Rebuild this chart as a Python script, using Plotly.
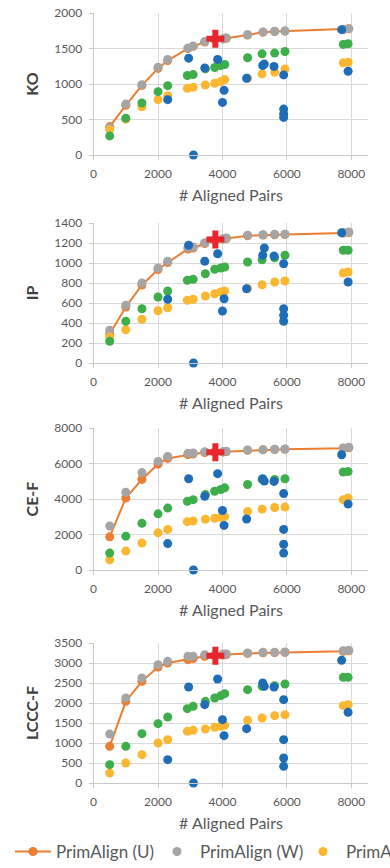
import plotly.graph_objects as go

# ---------------- data ----------------
metrics = ["KO", "IP", "CE-F", "LCCC-F"]
y_max = [2000, 1400, 8000, 3500]
y_step = [500, 200, 2000, 500]
x_ticks = [0, 2000, 4000, 6000, 8000]

# number of aligned pairs
x_u_w = [500, 1000, 1500, 2000, 2300, 2930, 3090, 3450, 3760, 4020, 4120, 4780, 5260, 5620, 5940, 7750, 7920]
x_y_g = [500, 1000, 1500, 2000, 2300, 2910, 3090, 3470, 3760, 3950, 4070, 4780, 5230, 5620, 5940, 7750, 7900]
x_blue = [2300, 2950, 3100, 3450, 3850, 4000, 4050, 4750, 5250, 5300, 5600, 5900, 5900, 5900, 5900, 7700, 7900]
x_star = [3780]

# PrimAlign (U)
ko_u = [400, 700, 980, 1220, 1330, 1500, 1530, 1590, 1625, 1635, 1645, 1690, 1730, 1740, 1745, 1768, 1777]
ip_u = [290, 560, 780, 935, 1005, 1140, 1150, 1195, 1225, 1240, 1245, 1272, 1280, 1283, 1285, 1300, 1305]
cef_u = [1867, 4057, 5105, 5962, 6286, 6500, 6540, 6620, 6640, 6650, 6670, 6740, 6770, 6790, 6800, 6860, 6890]
lccc_u = [917, 2042, 2542, 2900, 3000, 3083, 3110, 3170, 3180, 3200, 3210, 3240, 3255, 3260, 3265, 3295, 3305]

# PrimAlign (W)
ko_w = [387, 717, 991, 1237, 1345, 1506, 1534, 1600, 1628, 1638, 1647, 1694, 1732, 1742, 1746, 1770, 1779]
ip_w = [327, 577, 800, 950, 1017, 1153, 1160, 1203, 1230, 1243, 1250, 1277, 1283, 1287, 1287, 1303, 1310]
cef_w = [2477, 4381, 5486, 6114, 6400, 6571, 6590, 6667, 6670, 6667, 6686, 6762, 6781, 6800, 6819, 6877, 6915]
lccc_w = [1225, 2125, 2625, 2958, 3042, 3167, 3167, 3208, 3200, 3225, 3225, 3250, 3267, 3267, 3275, 3308, 3317]

# yellow series
ko_y = [360, 505, 680, 779, 835, 939, 953, 986, 1010, 1034, 1062, 1081, 1142, 1166, 1213, 1298, 1307]
ip_y = [260, 333, 437, 523, 553, 627, 637, 670, 693, 710, 720, 745, 783, 810, 820, 900, 910]
cef_y = [571, 1067, 1524, 2095, 2286, 2724, 2762, 2857, 2914, 2972, 3010, 3295, 3429, 3524, 3543, 3962, 4057]
lccc_y = [250, 500, 708, 1000, 1083, 1292, 1317, 1350, 1392, 1417, 1442, 1567, 1625, 1683, 1708, 1933, 1958]

# green series
ko_g = [269, 519, 732, 892, 977, 1119, 1133, 1213, 1232, 1260, 1274, 1369, 1425, 1435, 1458, 1558, 1567]
ip_g = [217, 417, 543, 660, 720, 827, 837, 893, 937, 950, 960, 1010, 1033, 1053, 1077, 1127, 1127]
cef_g = [952, 1905, 2629, 3162, 3486, 3867, 3962, 4248, 4438, 4534, 4629, 4819, 5105, 5105, 5143, 5524, 5543]
lccc_g = [458, 917, 1233, 1483, 1650, 1858, 1917, 2042, 2125, 2183, 2233, 2333, 2417, 2433, 2475, 2642, 2642]

# blue series
ko_b = [779, 1364, 0, 1227, 1345, 741, 911, 1081, 1260, 1280, 1246, 1128, 647, 580, 529, 1765, 1180]
ip_b = [637, 1177, 0, 1017, 1093, 520, 643, 743, 1077, 1150, 1070, 993, 543, 477, 417, 1303, 810]
cef_b = [1486, 5143, 0, 4152, 5429, 3353, 2514, 2876, 5143, 5010, 4990, 4305, 2286, 1448, 952, 6495, 3714]
lccc_b = [583, 2400, 0, 1958, 2600, 1583, 1183, 1358, 2500, 2417, 2400, 2083, 1083, 625, 417, 3067, 1767]

# red cross
ko_star = [1638]
ip_star = [1235]
cef_star = [6630]
lccc_star = [3183]

series_u = [ko_u, ip_u, cef_u, lccc_u]
series_w = [ko_w, ip_w, cef_w, lccc_w]
series_y = [ko_y, ip_y, cef_y, lccc_y]
series_g = [ko_g, ip_g, cef_g, lccc_g]
series_b = [ko_b, ip_b, cef_b, lccc_b]
series_star = [ko_star, ip_star, cef_star, lccc_star]

# ---------------- style ----------------
W, H = 390, 868
C_U, C_W, C_Y, C_G, C_B, C_R = "#ED7D31", "#A5A5A5", "#FBB731", "#3DAE49", "#1F6DB6", "#E8262B"
FONT = "Lato"
TXT = "#595959"
GRID = "#D9D9D9"
AXL = "#C8C8C8"

# plot-area pixel boxes (top, bottom) for each panel
panels = [(13, 155), (223, 363), (428, 570), (643, 783)]
x_left, x_right = 93.6, 368.4

fig = go.Figure()
layout = dict(
    width=W, height=H,
    margin=dict(l=0, r=0, t=0, b=0, autoexpand=False),
    paper_bgcolor="white", plot_bgcolor="white",
    font=dict(family=FONT, color=TXT),
)

for i, m in enumerate(metrics):
    xa = "x" if i == 0 else f"x{i+1}"
    ya = "y" if i == 0 else f"y{i+1}"
    show = i == 0
    common = dict(xaxis=xa, yaxis=ya, cliponaxis=False, hoverinfo="x+y")
    fig.add_trace(go.Scatter(
        x=x_u_w, y=series_u[i], mode="lines+markers", name="PrimAlign (U)",
        line=dict(color=C_U, width=2), marker=dict(color=C_U, size=9),
        legendgroup="u", showlegend=show, legendwidth=93, **common))
    fig.add_trace(go.Scatter(
        x=x_u_w, y=series_w[i], mode="markers", name="PrimAlign (W)",
        marker=dict(color=C_W, size=9),
        legendgroup="w", showlegend=show, legendwidth=95, **common))
    fig.add_trace(go.Scatter(
        x=x_y_g, y=series_y[i], mode="markers", name="PrimAlign",
        marker=dict(color=C_Y, size=9),
        legendgroup="y", showlegend=show, legendwidth=39, **common))
    fig.add_trace(go.Scatter(
        x=x_y_g, y=series_g[i], mode="markers", name="Series 4",
        marker=dict(color=C_G, size=9),
        legendgroup="g", showlegend=False, **common))
    fig.add_trace(go.Scatter(
        x=x_blue, y=series_b[i], mode="markers", name="Series 5",
        marker=dict(color=C_B, size=9),
        legendgroup="b", showlegend=False, **common))
    fig.add_trace(go.Scatter(
        x=x_star, y=series_star[i], mode="markers", name="Series 6",
        marker=dict(color=C_R, size=15, symbol="cross"),
        legendgroup="r", showlegend=False, **common))

    top, bot = panels[i]
    xkey = "xaxis" if i == 0 else f"xaxis{i+1}"
    ykey = "yaxis" if i == 0 else f"yaxis{i+1}"
    layout[xkey] = dict(
        domain=[x_left / W, x_right / W], anchor=ya,
        range=[0, 8530], tickvals=x_ticks, ticktext=[str(v) for v in x_ticks],
        showgrid=True, gridcolor=GRID, gridwidth=1, zeroline=False,
        showline=True, linecolor=AXL, linewidth=1,
        ticks="outside", ticklen=4, tickcolor=AXL, ticklabelstandoff=4,
        tickfont=dict(family=FONT, size=12, color=TXT),
        title=dict(text="# Aligned Pairs", font=dict(family=FONT, size=16, color=TXT), standoff=9),
        fixedrange=True,
    )
    yt = list(range(0, y_max[i] + 1, y_step[i]))
    layout[ykey] = dict(
        domain=[1 - bot / H, 1 - top / H], anchor=xa,
        range=[0, y_max[i]], tickvals=yt, ticktext=[str(v) for v in yt],
        showgrid=True, gridcolor=GRID, gridwidth=1, zeroline=False,
        showline=True, linecolor=AXL, linewidth=1,
        ticks="outside", ticklen=4, tickcolor=AXL, ticklabelstandoff=4,
        tickfont=dict(family=FONT, size=12, color=TXT),
        title=dict(text=f"<b>{m}</b>", font=dict(family=FONT, size=16, color="#404040"), standoff=11),
        fixedrange=True,
    )

layout["legend"] = dict(
    orientation="h", xref="paper", yref="paper",
    x=10 / W, xanchor="left", y=(H - 852) / H, yanchor="middle",
    font=dict(family=FONT, size=17, color=TXT),
    bgcolor="rgba(0,0,0,0)", borderwidth=0, itemwidth=36,
    traceorder="normal",
)
fig.update_layout(**layout)

fig.write_html("out.html", config={"displayModeBar": False})
